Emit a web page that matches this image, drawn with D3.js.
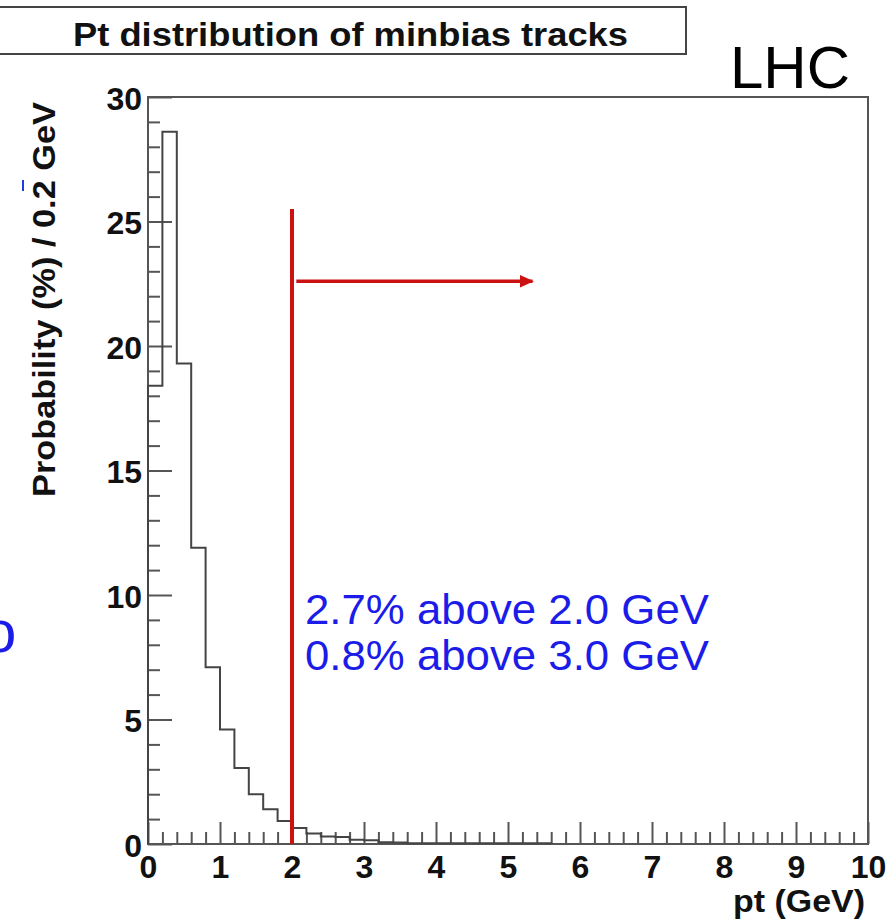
<!DOCTYPE html>
<html>
<head>
<meta charset="utf-8">
<script src="https://cdn.jsdelivr.net/npm/d3@7"></script>
<style>
  body { margin: 0; background: #fff; }
  svg { display: block; }
</style>
</head>
<body>
<div id="chart"></div>
<script>
// bin lower edges (GeV), bin width 0.2
const ptLow = [0.0, 0.2, 0.4, 0.6, 0.8, 1.0, 1.2, 1.4, 1.6, 1.8,
  2.0, 2.2, 2.4, 2.6, 2.8, 3.0, 3.2, 3.4, 3.6, 3.8,
  4.0, 4.2, 4.4, 4.6, 4.8, 5.0, 5.2, 5.4];
const probability = [18.4, 28.6, 19.3, 11.9, 7.1, 4.6, 3.05, 2.0, 1.4, 0.92,
  0.64, 0.42, 0.30, 0.28, 0.17, 0.15, 0.07, 0.06, 0.03, 0.03,
  0.03, 0.03, 0.03, 0.03, 0.03, 0.03, 0.03, 0.03];
const binWidth = 0.2;

const xMajor = [0, 1, 2, 3, 4, 5, 6, 7, 8, 9, 10];
const yMajor = [0, 5, 10, 15, 20, 25, 30];
const notes = ["2.7% above 2.0 GeV", "0.8% above 3.0 GeV"];
const ptCut = 2.0;

const W = 890, H = 920;
const svg = d3.select("#chart").append("svg")
  .attr("width", W).attr("height", H)
  .style("font-family", "'Liberation Sans', Arial, sans-serif");

const x = d3.scaleLinear().domain([0, 10]).range([148, 868]);
const y = d3.scaleLinear().domain([0, 30]).range([844, 97]);
const frameCol = "#555";

// minor ticks
const xMinor = d3.range(0, 10.001, 0.2).map(v => +v.toFixed(1)).filter(v => !xMajor.includes(v));
const yMinor = d3.range(0, 31).filter(v => !yMajor.includes(v));

svg.append("g").attr("transform", `translate(0,${y(0)})`)
  .call(d3.axisBottom(x).tickValues(xMinor).tickSize(-12).tickFormat(""))
  .call(g => g.select(".domain").remove())
  .call(g => g.selectAll("line").attr("stroke", frameCol).attr("stroke-width", 2));
svg.append("g").attr("transform", `translate(${x(0)},0)`)
  .call(d3.axisLeft(y).tickValues(yMinor).tickSize(-12).tickFormat(""))
  .call(g => g.select(".domain").remove())
  .call(g => g.selectAll("line").attr("stroke", frameCol).attr("stroke-width", 2));

// major ticks + labels
svg.append("g").attr("transform", `translate(0,${y(0)})`)
  .call(d3.axisBottom(x).tickValues(xMajor).tickSize(-22).tickPadding(10).tickFormat(d3.format("d")))
  .call(g => g.select(".domain").remove())
  .call(g => g.selectAll("line").attr("stroke", frameCol).attr("stroke-width", 2))
  .call(g => g.selectAll("text").attr("y", 34).attr("dy", null)
    .attr("fill", "#111").style("font-size", "32px").style("font-weight", "bold"));
svg.append("g").attr("transform", `translate(${x(0)},0)`)
  .call(d3.axisLeft(y).tickValues(yMajor).tickSize(-24).tickPadding(6).tickFormat(d3.format("d")))
  .call(g => g.select(".domain").remove())
  .call(g => g.selectAll("line").attr("stroke", frameCol).attr("stroke-width", 2))
  .call(g => g.selectAll("text").attr("dy", "0.38em")
    .attr("fill", "#111").style("font-size", "32px").style("font-weight", "bold"));

// frame
svg.append("rect")
  .attr("x", x(0)).attr("y", y(30))
  .attr("width", x(10) - x(0)).attr("height", y(0) - y(30))
  .attr("fill", "none").attr("stroke", frameCol).attr("stroke-width", 2);

// histogram outline
const pts = [[ptLow[0], 0]];
ptLow.forEach((lo, i) => {
  pts.push([lo, probability[i]]);
  pts.push([lo + binWidth, probability[i]]);
});
pts.push([ptLow[ptLow.length - 1] + binWidth, 0]);
const line = d3.line().x(d => x(d[0])).y(d => y(d[1]));
svg.append("path")
  .attr("d", line(pts))
  .attr("fill", "none").attr("stroke", "#444").attr("stroke-width", 2);

// red cut line and arrow
const red = "#cc1111";
svg.append("defs").append("marker")
  .attr("id", "arrow").attr("viewBox", "0 0 10 10")
  .attr("refX", 9).attr("refY", 5)
  .attr("markerWidth", 4).attr("markerHeight", 4)
  .attr("markerUnits", "strokeWidth")
  .attr("orient", "auto")
  .append("path").attr("d", "M0,0.5 L10,5 L0,9.5 Z").attr("fill", red);
svg.append("line")
  .attr("x1", x(ptCut)).attr("x2", x(ptCut))
  .attr("y1", y(25.5)).attr("y2", y(0))
  .attr("stroke", red).attr("stroke-width", 4);
svg.append("line")
  .attr("x1", x(2.06)).attr("x2", x(5.34))
  .attr("y1", y(22.6)).attr("y2", y(22.6))
  .attr("stroke", red).attr("stroke-width", 3.5)
  .attr("marker-end", "url(#arrow)");

// blue notes
svg.selectAll("text.note").data(notes).join("text")
  .attr("class", "note")
  .attr("x", x(2.18))
  .attr("y", (d, i) => y(8.85) + i * 46)
  .attr("fill", "#1c1ce8")
  .attr("textLength", 404).attr("lengthAdjust", "spacingAndGlyphs")
  .style("font-size", "42px")
  .text(d => d);

// title box
svg.append("rect")
  .attr("x", -5).attr("y", 7).attr("width", 691).attr("height", 47)
  .attr("fill", "#fff").attr("stroke", "#444").attr("stroke-width", 2);
svg.append("text")
  .attr("x", 73).attr("y", 46)
  .attr("textLength", 555).attr("lengthAdjust", "spacingAndGlyphs")
  .style("font-size", "33px").style("font-weight", "bold").attr("fill", "#111")
  .text("Pt distribution of minbias tracks");

svg.append("text")
  .attr("x", 730).attr("y", 88)
  .style("font-size", "60px").attr("fill", "#000")
  .text("LHC");

// axis titles
svg.append("text")
  .attr("transform", "translate(55,102) rotate(-90)")
  .attr("text-anchor", "end")
  .attr("textLength", 395).attr("lengthAdjust", "spacingAndGlyphs")
  .style("font-size", "31px").style("font-weight", "bold").attr("fill", "#111")
  .text("Probability (%) / 0.2 GeV");
svg.append("text")
  .attr("x", 733).attr("y", 912)
  .attr("textLength", 132).attr("lengthAdjust", "spacingAndGlyphs")
  .style("font-size", "32px").style("font-weight", "bold").attr("fill", "#111")
  .text("pt (GeV)");

// slide fragments at the left edge
svg.append("text")
  .attr("x", -17).attr("y", 652)
  .style("font-size", "60px").attr("fill", "#1c1ce8")
  .text("o");
svg.append("line")
  .attr("x1", 23).attr("x2", 23).attr("y1", 180).attr("y2", 191)
  .attr("stroke", "#1c3ce8").attr("stroke-width", 2);
</script>
</body>
</html>
